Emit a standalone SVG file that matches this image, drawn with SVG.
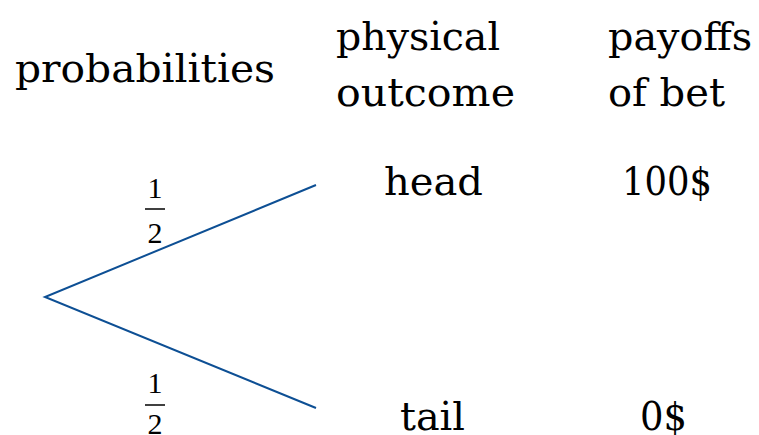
<svg xmlns="http://www.w3.org/2000/svg" width="759" height="435" viewBox="0 0 759 435">
<style>
.lbl{font-family:"DejaVu Serif","Liberation Serif",serif;font-size:40px;fill:#000}
.frac{font-family:"Liberation Serif","Times New Roman",serif;font-size:30px;fill:#000;text-anchor:middle}
.bar{stroke:#000;stroke-width:1.5}
.edge{stroke:#0d4f94;stroke-width:2;fill:none}
</style>
<rect width="759" height="435" fill="#fff"/>
<g id="headers">
<text class="lbl" x="15" y="82" textLength="260" lengthAdjust="spacingAndGlyphs">probabilities</text>
<text class="lbl" x="336" y="50" textLength="164" lengthAdjust="spacingAndGlyphs">physical</text>
<text class="lbl" x="336" y="106" textLength="179" lengthAdjust="spacingAndGlyphs">outcome</text>
<text class="lbl" x="608" y="50" textLength="144" lengthAdjust="spacingAndGlyphs">payoffs</text>
<text class="lbl" x="608" y="106" textLength="117" lengthAdjust="spacingAndGlyphs">of bet</text>
</g>
<g id="connectors">
<path class="edge" d="M316,185 L45,297 L316,408"/>
</g>
<g id="prob-head">
<text class="frac" x="155" y="198">1</text>
<line class="bar" x1="145" y1="209" x2="165" y2="209"/>
<text class="frac" x="155" y="243">2</text>
</g>
<g id="prob-tail">
<text class="frac" x="155" y="393">1</text>
<line class="bar" x1="145" y1="405" x2="165" y2="405"/>
<text class="frac" x="155" y="434">2</text>
</g>
<g id="head">
<text class="lbl" x="384" y="195" textLength="99" lengthAdjust="spacingAndGlyphs">head</text>
<text class="lbl" x="622" y="195" textLength="90" lengthAdjust="spacingAndGlyphs">100$</text>
</g>
<g id="tail">
<text class="lbl" x="400" y="430" textLength="65" lengthAdjust="spacingAndGlyphs">tail</text>
<text class="lbl" x="640" y="430" textLength="47" lengthAdjust="spacingAndGlyphs">0$</text>
</g>
</svg>
